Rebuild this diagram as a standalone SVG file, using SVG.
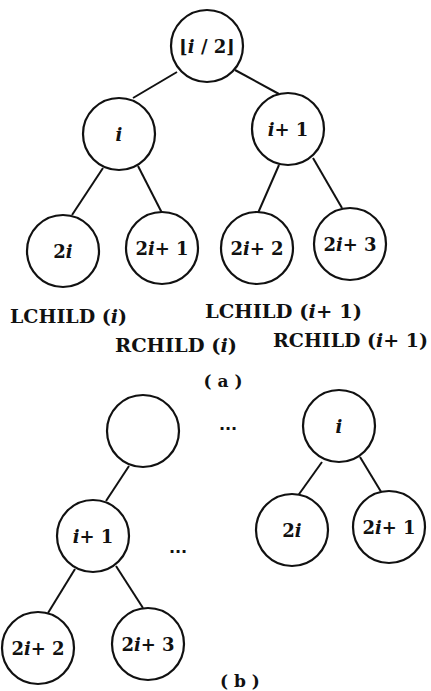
<svg xmlns="http://www.w3.org/2000/svg" width="431" height="691" viewBox="0 0 431 691">
<style>
.n circle{fill:#fff;stroke:#111;stroke-width:2.2}
.n text{font-family:"DejaVu Serif","Liberation Serif",serif;font-size:18px;font-weight:bold;fill:#111;text-anchor:middle;dominant-baseline:central}
.it{font-style:italic}
.edges line{stroke:#111;stroke-width:2}
.lbl{font-family:"DejaVu Serif","Liberation Serif",serif;font-size:19px;font-weight:bold;fill:#111}
.cap{font-family:"DejaVu Serif","Liberation Serif",serif;font-size:17px;font-weight:bold;fill:#111;text-anchor:middle}
.dots{font-family:"DejaVu Sans",sans-serif;font-size:16px;font-weight:bold;fill:#111;text-anchor:middle}
</style>
<rect width="431" height="691" fill="#fff"/>
<g class="edges">
<line x1="177" y1="72" x2="133" y2="98"/>
<line x1="235" y1="70" x2="279" y2="94"/>
<line x1="103" y1="168" x2="72" y2="215"/>
<line x1="138" y1="166" x2="162" y2="213"/>
<line x1="279" y1="165" x2="258" y2="213"/>
<line x1="313" y1="158" x2="342" y2="208"/>
<line x1="129" y1="466" x2="106" y2="501"/>
<line x1="322" y1="462" x2="297" y2="497"/>
<line x1="360" y1="457" x2="383" y2="495"/>
<line x1="75" y1="569" x2="48" y2="613"/>
<line x1="116" y1="566" x2="143" y2="608"/>
</g>
<g id="root" class="n"><circle cx="207" cy="46" r="36"/><text x="207" y="46">⌊<tspan class="it">i</tspan> / 2⌋</text></g>
<g id="a_i" class="n"><circle cx="119" cy="134" r="36"/><text x="119" y="134" class="it">i</text></g>
<g id="a_i1" class="n"><circle cx="288" cy="129" r="36"/><text x="288" y="129"><tspan class="it">i</tspan>+ 1</text></g>
<g id="a_2i" class="n"><circle cx="63" cy="251" r="36"/><text x="63" y="251">2<tspan class="it">i</tspan></text></g>
<g id="a_2i1" class="n"><circle cx="162" cy="248" r="36"/><text x="162" y="248">2<tspan class="it">i</tspan>+ 1</text></g>
<g id="a_2i2" class="n"><circle cx="257" cy="248" r="36"/><text x="257" y="248">2<tspan class="it">i</tspan>+ 2</text></g>
<g id="a_2i3" class="n"><circle cx="350" cy="244" r="36"/><text x="350" y="244">2<tspan class="it">i</tspan>+ 3</text></g>
<text class="lbl" x="10" y="323" textLength="117" lengthAdjust="spacingAndGlyphs">LCHILD (<tspan class="it">i</tspan>)</text>
<text class="lbl" x="115" y="352" textLength="122" lengthAdjust="spacingAndGlyphs">RCHILD (<tspan class="it">i</tspan>)</text>
<text class="lbl" x="205" y="318" textLength="157" lengthAdjust="spacingAndGlyphs">LCHILD (<tspan class="it">i</tspan>+ 1)</text>
<text class="lbl" x="273" y="347" textLength="155" lengthAdjust="spacingAndGlyphs">RCHILD (<tspan class="it">i</tspan>+ 1)</text>
<text class="cap" x="223" y="387">( a )</text>
<g id="b_p" class="n"><circle cx="143" cy="431" r="36"/></g>
<g id="b_i" class="n"><circle cx="339" cy="426" r="36"/><text x="339" y="426" class="it">i</text></g>
<g id="b_2i" class="n"><circle cx="292" cy="530" r="36"/><text x="292" y="530">2<tspan class="it">i</tspan></text></g>
<g id="b_2i1" class="n"><circle cx="389" cy="527" r="36"/><text x="389" y="527">2<tspan class="it">i</tspan>+ 1</text></g>
<g id="b_i1" class="n"><circle cx="93" cy="536" r="36"/><text x="93" y="536"><tspan class="it">i</tspan>+ 1</text></g>
<g id="b_2i2" class="n"><circle cx="38" cy="648" r="36"/><text x="38" y="648">2<tspan class="it">i</tspan>+ 2</text></g>
<g id="b_2i3" class="n"><circle cx="148" cy="644" r="36"/><text x="148" y="644">2<tspan class="it">i</tspan>+ 3</text></g>
<text class="dots" x="228" y="430">...</text>
<text class="dots" x="178" y="553">...</text>
<text class="cap" x="240" y="687">( b )</text>
</svg>
